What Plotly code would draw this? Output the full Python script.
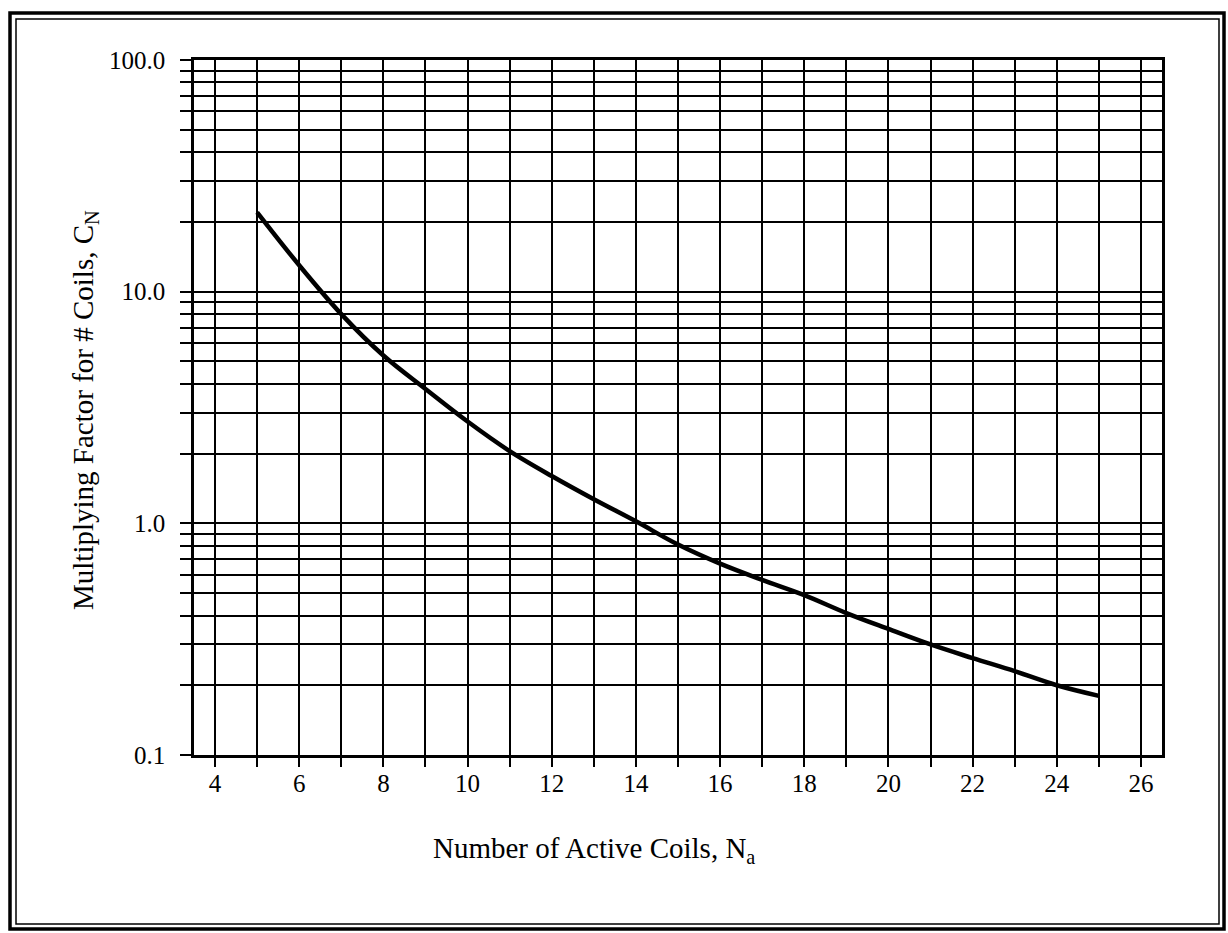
import plotly.graph_objects as go

# Number of active coils and the multiplying factor
coils = [5, 6, 7, 8, 9, 10, 11, 12, 13, 14, 15, 16, 17, 18, 19, 20, 21, 22, 23, 24, 25]
factor = [22.0, 13.0, 8.0, 5.3, 3.8, 2.75, 2.05, 1.6, 1.27, 1.02, 0.81, 0.67, 0.57,
          0.49, 0.41, 0.35, 0.30, 0.262, 0.23, 0.20, 0.18]

# Tick positions and labels
x_tickvals = list(range(4, 27))
x_ticktext = [str(v) if v % 2 == 0 else "" for v in x_tickvals]
y_tickvals = [m * 10.0 ** e for e in (-1, 0, 1) for m in range(1, 10)] + [100.0]
y_labels = {0.1: "0.1", 1.0: "1.0", 10.0: "10.0", 100.0: "100.0"}
y_ticktext = [y_labels.get(round(v, 6), "") for v in y_tickvals]

W, H = 1228, 933
L, R, T, B = 194, 1162, 60, 755
FONT = "Liberation Serif"


def px_x(p):
    return (p - L) / (R - L)


def px_y(p):
    return (B - p) / (B - T)


fig = go.Figure()
fig.add_trace(go.Scatter(
    x=coils, y=factor, mode="lines",
    line=dict(color="black", width=4.5, shape="spline"),
    showlegend=False, hoverinfo="skip",
))

axis_common = dict(
    showgrid=True, gridcolor="black", gridwidth=2.2,
    showline=True, linecolor="black", linewidth=2.5, mirror=True,
    ticks="outside", tickcolor="black", tickwidth=2.2,
    tickfont=dict(family=FONT, size=25, color="black"),
    zeroline=False,
)

fig.update_xaxes(
    range=[3.5, 26.5], tickmode="array", tickvals=x_tickvals, ticktext=x_ticktext,
    ticklen=9, ticklabelstandoff=-5, **axis_common,
)
fig.update_yaxes(
    type="log", range=[-1, 2], tickmode="array", tickvals=y_tickvals, ticktext=y_ticktext,
    ticklen=11, ticklabelstandoff=10, **axis_common,
)

# Axis titles
fig.add_annotation(
    text="Number of Active Coils, N<sub>a</sub>", xref="paper", yref="paper",
    x=px_x(594), y=px_y(850), showarrow=False, xanchor="center", yanchor="middle",
    font=dict(family=FONT, size=29, color="black"),
)
fig.add_annotation(
    text="Multiplying Factor for # Coils, C<sub>N</sub>", xref="paper", yref="paper",
    x=px_x(85), y=px_y(410), showarrow=False, textangle=-90,
    xanchor="center", yanchor="middle",
    font=dict(family=FONT, size=29, color="black"),
)

# Double frame around the page
fig.add_shape(type="rect", xref="paper", yref="paper",
              x0=px_x(10), x1=px_x(1224), y0=px_y(929), y1=px_y(13),
              line=dict(color="black", width=3.5))
fig.add_shape(type="rect", xref="paper", yref="paper",
              x0=px_x(16), x1=px_x(1219), y0=px_y(924), y1=px_y(19),
              line=dict(color="black", width=1.5))

fig.update_layout(
    width=W, height=H,
    margin=dict(l=L, r=W - R, t=T, b=H - B),
    paper_bgcolor="white", plot_bgcolor="white",
    font=dict(family=FONT, color="black"),
)

fig.write_html("out.html")
